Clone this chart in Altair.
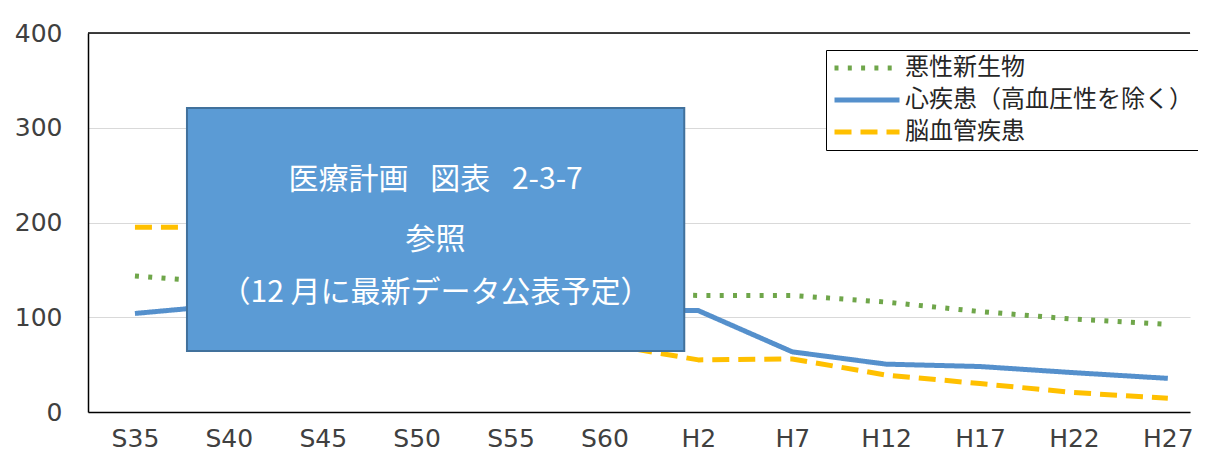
import json
import altair as alt
import pandas as pd

categories = ["S35", "S40", "S45", "S50", "S55", "S60", "H2", "H7", "H12", "H17", "H22", "H27"]
series_names = ["悪性新生物", "心疾患（高血圧性を除く）", "脳血管疾患"]
cancer = [143.5, 136, 134, 131, 128, 125, 123, 123, 116, 106, 98, 92.5]
heart = [104, 113, 116, 112, 110, 107, 107, 63.5, 50.5, 48, 41.5, 35.5]
cerebro = [195, 195, 180, 150, 110, 72, 55, 56, 39, 30, 20.5, 14.5]
y_ticks = [0, 100, 200, 300, 400]

note_lines = ["医療計画\u2002 図表\u2002 2-3-7", "参照", "（12 月に最新データ公表予定）"]
note_y = [245, 181.5, 125.6]
box_x = [0.554, 5.85]
box_y = [64.4, 320.8]

colors = ["#6FA64A", "#5590CC", "#FFC000"]
dashes = [[4, 9.3], [1, 0], [17, 9]]

rows = []
for name, vals in zip(series_names, [cancer, heart, cerebro]):
    for i, (c, v) in enumerate(zip(categories, vals)):
        rows.append({"xi": i, "cat": c, "val": v, "series": name})
df = pd.DataFrame(rows)

label_expr = json.dumps(categories, ensure_ascii=False) + "[datum.value]"

x_enc = alt.X(
    "xi:Q",
    title=None,
    scale=alt.Scale(domain=[-0.5, 11.236], nice=False, zero=False),
    axis=alt.Axis(
        values=list(range(len(categories))),
        labelExpr=label_expr,
        grid=False,
        ticks=False,
        domainColor="black",
        domainWidth=1.5,
        labelFont="DejaVu Sans",
        labelFontSize=25,
        labelColor="#404040",
        labelPadding=14,
    ),
)
y_enc = alt.Y(
    "val:Q",
    title=None,
    scale=alt.Scale(domain=[0, 400], nice=False),
    axis=alt.Axis(
        values=y_ticks,
        grid=True,
        gridColor="#D9D9D9",
        gridWidth=1.2,
        ticks=False,
        domainColor="black",
        domainWidth=1.5,
        labelFont="DejaVu Sans",
        labelFontSize=25,
        labelColor="#404040",
        labelPadding=26,
    ),
)

lines = alt.Chart(df).mark_line(strokeWidth=5, strokeCap="butt", strokeJoin="round").encode(
    x=x_enc,
    y=y_enc,
    color=alt.Color(
        "series:N",
        scale=alt.Scale(domain=series_names, range=colors),
        legend=alt.Legend(
            title=None,
            orient="none",
            legendX=738,
            legendY=17,
            symbolType="stroke",
            symbolSize=4225,
            symbolStrokeWidth=5,
            clipHeight=24,
            rowPadding=8,
            padding=6,
            strokeColor="black",
            fillColor="white",
            labelFont="Noto Sans CJK JP",
            labelFontSize=24,
            labelColor="#262626",
            labelLimit=500,
            labelOffset=3,
        ),
    ),
    strokeDash=alt.StrokeDash(
        "series:N",
        scale=alt.Scale(domain=series_names, range=dashes),
        legend=alt.Legend(title=None),
    ),
    detail="series:N",
)

top_df = pd.DataFrame({"val": [y_ticks[-1]]})
top_rule = alt.Chart(top_df).mark_rule(color="black", strokeWidth=1.5).encode(y=alt.Y("val:Q"))

box_df = pd.DataFrame({"xi": [box_x[0]], "xi2": [box_x[1]], "val": [box_y[0]], "val2": [box_y[1]]})
box = alt.Chart(box_df).mark_rect(fill="#5B9BD5", stroke="#41719C", strokeWidth=2).encode(
    x=alt.X("xi:Q"), x2="xi2", y=alt.Y("val:Q"), y2="val2"
)

note_df = pd.DataFrame({
    "xi": [(box_x[0] + box_x[1]) / 2] * len(note_lines),
    "val": note_y,
    "label": note_lines,
})
note = alt.Chart(note_df).mark_text(
    font="Noto Sans CJK JP", fontSize=30, color="white", align="center", baseline="middle"
).encode(x=alt.X("xi:Q"), y=alt.Y("val:Q"), text="label:N")

chart = alt.layer(lines, top_rule, box, note).properties(
    width=1102,
    height=379,
    autosize=alt.AutoSizeParams(type="none"),
    padding={"left": 80, "top": 25, "right": 8, "bottom": 40},
    background="white",
).configure_view(strokeWidth=0)

chart.save("out.html", embed_options={"renderer": "svg", "actions": False})
